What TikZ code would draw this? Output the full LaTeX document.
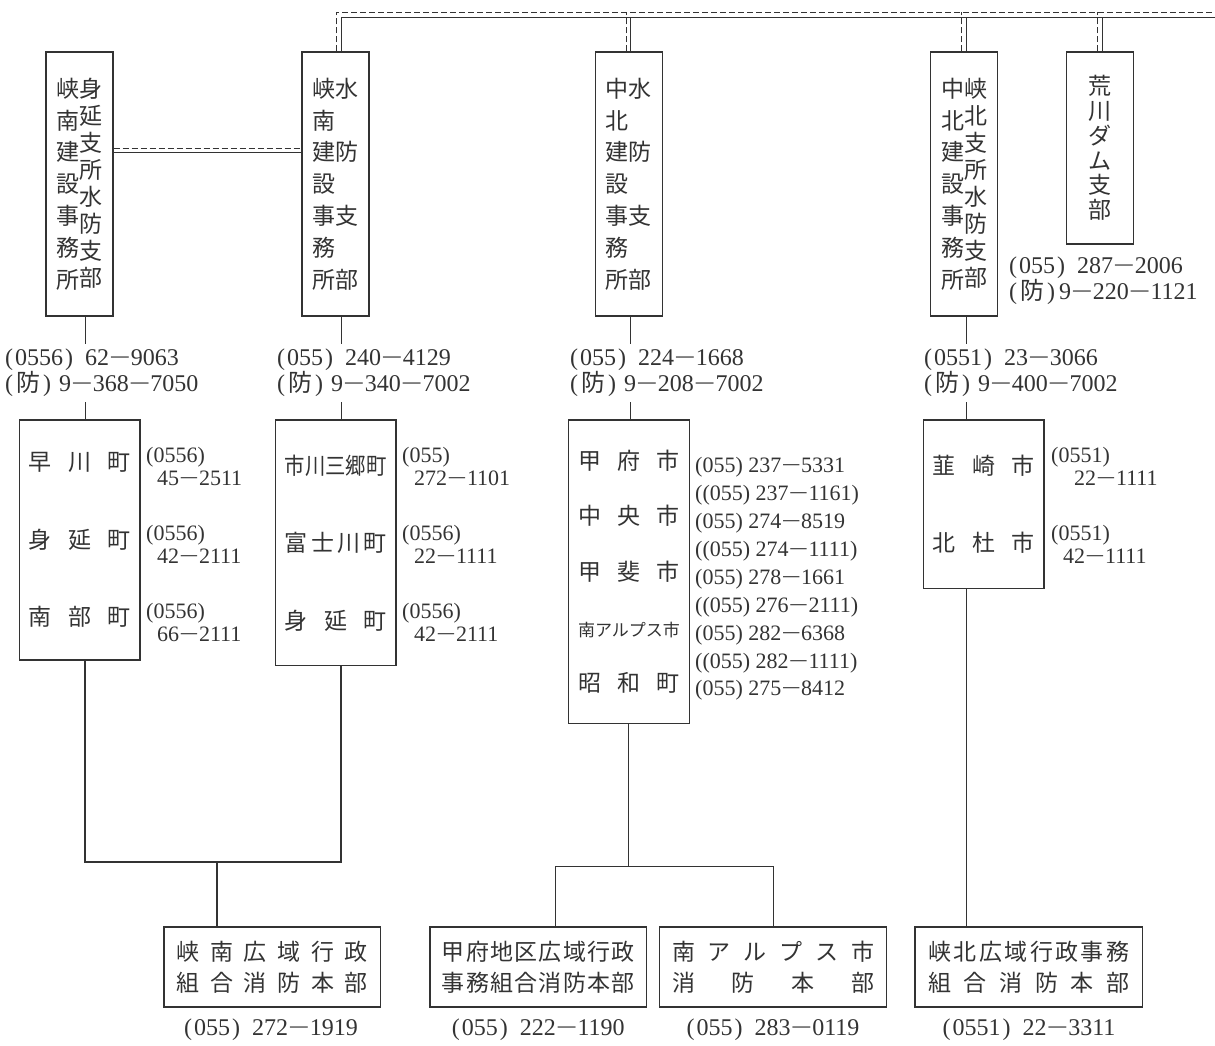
\documentclass[tikz,border=0pt]{standalone}
\usepackage{fontspec}
\usepackage{graphicx}
\setmainfont{Liberation Serif}
\newfontfamily\jp{Noto Sans CJK JP}
\usetikzlibrary{positioning}

\definecolor{ink}{HTML}{333333}
\newcommand\vcol[2]{\begin{minipage}[t]{23pt}\centering\fontsize{23}{#1}\selectfont #2\end{minipage}}
\newcommand\fillrow[2][102pt]{\makebox[#1][s]{#2}}
\newcommand\bo{(\hspace{3pt}{\jp 防}\hspace{3pt})}
\newcommand\area[1]{(\hspace{2pt}#1\hspace{2pt})\hspace{12pt}}
\newcommand\mi{\scalebox{1.6}[1]{−}}

\tikzset{
  office/.style={draw, line width=1.2pt, minimum width=67pt, minimum height=264pt, inner sep=0pt, font=\jp},
  town/.style={draw, line width=1.2pt, minimum width=120.5pt, inner sep=0pt, align=center},
  hq/.style={draw, line width=1.2pt, minimum height=80pt, inner sep=0pt, align=center, font=\jp\fontsize{23}{31.3}\selectfont},
  telnum/.style={inner sep=0pt, outer ysep=5pt, align=left, font=\fontsize{24}{25}\selectfont},
  sidetel/.style={inner sep=0pt, align=left, anchor=west, font=\fontsize{22}{23}\selectfont},
  link/.style={line width=0.8pt},
  heavy/.style={line width=1.3pt},
  dline/.style={line width=0.8pt, dash pattern=on 6pt off 3pt},
}

\begin{document}
\begin{tikzpicture}[x=1pt, y=-1pt, color=ink]
\useasboundingbox (0,0) rectangle (1215,1045);

% trunk columns
\coordinate (tA) at (85,0);
\coordinate (tB) at (341,0);
\coordinate (tBd) at (336.4,0);
\coordinate (tC) at (630.5,0);
\coordinate (tCd) at (626,0);
\coordinate (tD) at (966.5,0);
\coordinate (tDd) at (961.8,0);
\coordinate (tE) at (1102,0);
\coordinate (tEd) at (1097.2,0);
\coordinate (edgeOut) at (1215,12);
\coordinate (edgeIn) at (1215,17);
\coordinate (hOut) at (0,148);
\coordinate (hIn) at (0,152.5);

% offices
\node[office] (minobu) at (79.5,184) {\vcol{31.8}{峡\\南\\建\\設\\事\\務\\所}\vcol{27}{身\\延\\支\\所\\水\\防\\支\\部}};
\node[office] (kyonan) at (335.5,184) {\vcol{31.8}{峡\\南\\建\\設\\事\\務\\所}\vcol{63.6}{水\\防\\支\\部}};
\node[office] (chuhoku) at (628.9,184) {\vcol{31.8}{中\\北\\建\\設\\事\\務\\所}\vcol{63.6}{水\\防\\支\\部}};
\node[office] (kyohoku) at (964.3,184) {\vcol{31.8}{中\\北\\建\\設\\事\\務\\所}\vcol{27}{峡\\北\\支\\所\\水\\防\\支\\部}};
\node[office, minimum height=192pt] (arakawa) at (1100,148) {\vcol{24.7}{荒\\川\\ダ\\ム\\支\\部}};

% phone numbers of the offices
\node[telnum, anchor=west] (telA) at (5,373) {\area{0556}62\mi9063\\\bo\hspace{8pt}9\mi368\mi7050};
\node[telnum, anchor=west] (telB) at (277,373) {\area{055}240\mi4129\\\bo\hspace{8pt}9\mi340\mi7002};
\node[telnum, anchor=west] (telC) at (570,373) {\area{055}224\mi1668\\\bo\hspace{8pt}9\mi208\mi7002};
\node[telnum, anchor=west] (telD) at (924,373) {\area{0551}23\mi3066\\\bo\hspace{8pt}9\mi400\mi7002};
\node[telnum, anchor=west, font=\fontsize{24}{23}\selectfont] (telE) at (1009,280.5) {\area{055}287\mi2006\\\bo\hspace{4pt}9\mi220\mi1121};

% towns
\node[town, minimum height=240pt, font=\jp\fontsize{23}{77.5}\selectfont] (hayakawa) at (79.8,540)
  {\fillrow{早\hfill 川\hfill 町}\\\fillrow{身\hfill 延\hfill 町}\\\fillrow{南\hfill 部\hfill 町}};
\node[town, minimum height=245.7pt, font=\jp\fontsize{23}{77.5}\selectfont] (ichikawa) at (335.75,542.85)
  {\scalebox{0.887}[1]{市川三郷町}\\\fillrow{富\hfill 士\hfill 川\hfill 町}\\\fillrow{身\hfill 延\hfill 町}};
\node[town, minimum height=303.3pt, font=\jp\fontsize{23}{55.7}\selectfont] (kofu) at (629,571.7)
  {\fillrow{甲\hfill 府\hfill 市}\\\fillrow{中\hfill 央\hfill 市}\\\fillrow{甲\hfill 斐\hfill 市}\\{\fontsize{17}{17}\selectfont 南アルプス市}\\\fillrow{昭\hfill 和\hfill 町}};
\node[town, minimum height=168.3pt, font=\jp\fontsize{23}{76.7}\selectfont] (nirasaki) at (983.7,504.2)
  {\fillrow{韮\hfill 崎\hfill 市}\\\fillrow{北\hfill 杜\hfill 市}};

% phone numbers of the towns
\node[sidetel] (hayakawaTel) at (146,466.5) {(0556)\\\hspace*{11pt}45\mi2511};
\node[sidetel] (minobuTel) at (146,544) {(0556)\\\hspace*{11pt}42\mi2111};
\node[sidetel] (nanbuTel) at (146,622) {(0556)\\\hspace*{11pt}66\mi2111};
\node[sidetel] (ichikawaTel) at (402,466.5) {(055)\\\hspace*{12pt}272\mi1101};
\node[sidetel] (fujikawaTel) at (402,544) {(0556)\\\hspace*{12pt}22\mi1111};
\node[sidetel] (minobuTelB) at (402,622) {(0556)\\\hspace*{12pt}42\mi2111};
\node[sidetel, font=\fontsize{22}{27.9}\selectfont] (kofuTel) at (695,579)
  {(055) 237\mi5331\\((055) 237\mi1161)\\(055) 274\mi8519\\((055) 274\mi1111)\\(055) 278\mi1661\\((055) 276\mi2111)\\(055) 282\mi6368\\((055) 282\mi1111)\\(055) 275\mi8412};
\node[sidetel] (nirasakiTel) at (1051,466.5) {(0551)\\\hspace*{23pt}22\mi1111};
\node[sidetel] (hokutoTel) at (1051,544) {(0551)\\\hspace*{12pt}42\mi1111};

% fire headquarters
\node[hq, minimum width=216.4pt] (hqKyonan) at (272.2,967)
  {\fillrow[191pt]{峡\hfill 南\hfill 広\hfill 域\hfill 行\hfill 政}\\\fillrow[191pt]{組\hfill 合\hfill 消\hfill 防\hfill 本\hfill 部}};
\node[hq, minimum width=216.6pt] (hqKofu) at (538.3,967)
  {\fillrow[193pt]{甲\hfill 府\hfill 地\hfill 区\hfill 広\hfill 域\hfill 行\hfill 政}\\\fillrow[193pt]{事\hfill 務\hfill 組\hfill 合\hfill 消\hfill 防\hfill 本\hfill 部}};
\node[hq, minimum width=226.6pt] (hqAlps) at (773.1,967)
  {\fillrow[202pt]{南\hfill ア\hfill ル\hfill プ\hfill ス\hfill 市}\\\fillrow[202pt]{消\hfill 防\hfill 本\hfill 部}};
\node[hq, minimum width=227.6pt] (hqKyohoku) at (1028.8,967)
  {\fillrow[201pt]{峡\hfill 北\hfill 広\hfill 域\hfill 行\hfill 政\hfill 事\hfill 務}\\\fillrow[201pt]{組\hfill 合\hfill 消\hfill 防\hfill 本\hfill 部}};
\node[telnum] (hqKyonanTel) at (271,1030) {\area{055}272\mi1919};
\node[telnum] (hqKofuTel) at (538.3,1030) {\area{055}222\mi1190};
\node[telnum] (hqAlpsTel) at (773,1030) {\area{055}283\mi0119};
\node[telnum] (hqKyohokuTel) at (1029,1030) {\area{0551}22\mi3311};

% double lines (radio / line)
\draw[dline] (kyonan.north -| tBd) |- (edgeOut);
\draw[link] (kyonan.north -| tB) |- (edgeIn);
\draw[dline] (chuhoku.north -| tCd) -- (tCd |- edgeOut);
\draw[link] (chuhoku.north -| tC) -- (tC |- edgeIn);
\draw[dline] (kyohoku.north -| tDd) -- (tDd |- edgeOut);
\draw[link] (kyohoku.north -| tD) -- (tD |- edgeIn);
\draw[dline] (arakawa.north -| tEd) -- (tEd |- edgeOut);
\draw[link] (arakawa.north -| tE) -- (tE |- edgeIn);
\draw[dline] (minobu.east |- hOut) -- (kyonan.west |- hOut);
\draw[link] (minobu.east |- hIn) -- (kyonan.west |- hIn);

% office to town
\draw[link] (minobu.south -| tA) -- (telA.north -| tA);
\draw[link] (telA.south -| tA) -- (hayakawa.north -| tA);
\draw[link] (kyonan.south -| tB) -- (telB.north -| tB);
\draw[link] (telB.south -| tB) -- (ichikawa.north -| tB);
\draw[link] (chuhoku.south -| tC) -- (telC.north -| tC);
\draw[heavy] (telC.south -| tC) -- (kofu.north -| tC);
\draw[link] (kyohoku.south -| tD) -- (telD.north -| tD);
\draw[link] (telD.south -| tD) -- (nirasaki.north -| tD);

% town to headquarters
\coordinate (jA) at (217,862);
\coordinate (jB) at (555.6,866);
\coordinate (jC) at (628,866);
\draw[heavy] (hayakawa.south -| tA) |- (jA) -| (ichikawa.south -| tB);
\draw[heavy] (jA) -- (jA |- hqKyonan.north);
\draw[link] (kofu.south -| jC) -- (jC);
\draw[link] (jB |- hqKofu.north) |- (hqAlps.north |- jC) -- (hqAlps.north);
\draw[link] (nirasaki.south -| tD) -- (hqKyohoku.north -| tD);
\end{tikzpicture}
\end{document}
